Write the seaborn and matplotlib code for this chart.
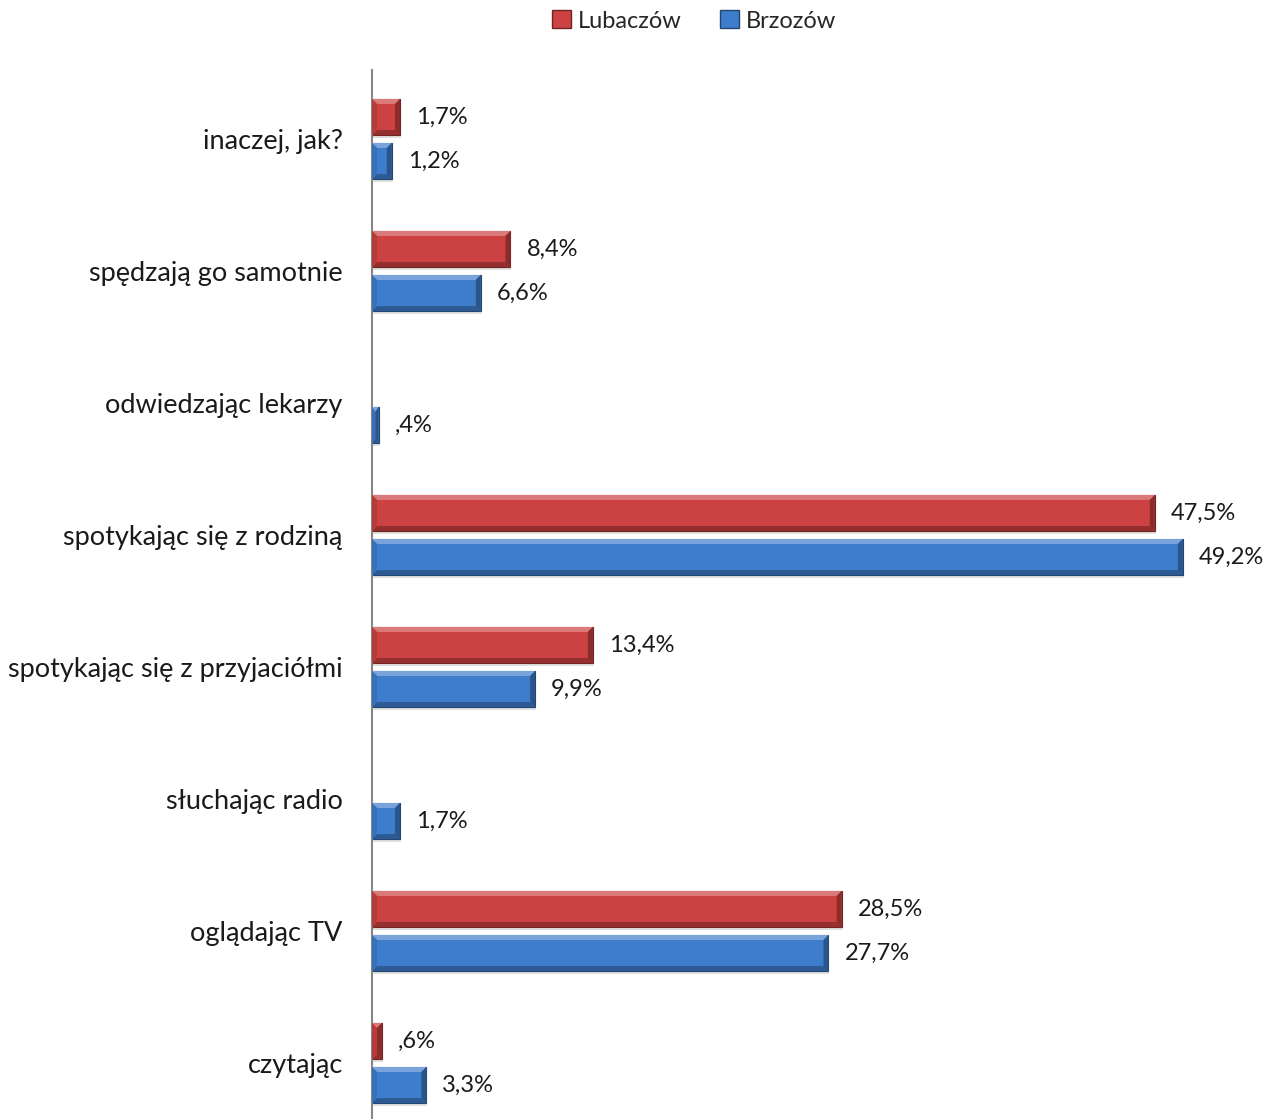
import numpy as np
import pandas as pd
import seaborn as sns
import matplotlib.pyplot as plt
from matplotlib.patches import Polygon, Patch, Rectangle
import matplotlib.colors as mcolors

categories = [
    "inaczej, jak?",
    "spędzają go samotnie",
    "odwiedzając lekarzy",
    "spotykając się z rodziną",
    "spotykając się z przyjaciółmi",
    "słuchając radio",
    "oglądając TV",
    "czytając",
]
lubaczow = [1.7, 8.4, np.nan, 47.5, 13.4, np.nan, 28.5, 0.6]
brzozow = [1.2, 6.6, 0.4, 49.2, 9.9, 1.7, 27.7, 3.3]
lubaczow_labels = ["1,7%", "8,4%", "", "47,5%", "13,4%", "", "28,5%", ",6%"]
brzozow_labels = ["1,2%", "6,6%", ",4%", "49,2%", "9,9%", "1,7%", "27,7%", "3,3%"]
series = ["Lubaczów", "Brzozów"]
colors = ["#CC4141", "#3E7DCB"]

df = pd.DataFrame({
    "kategoria": categories * 2,
    "seria": [series[0]] * len(categories) + [series[1]] * len(categories),
    "wartosc": lubaczow + brzozow,
})

sns.set_style("white")
plt.rcParams["font.family"] = ["Lato", "DejaVu Sans"]

W, H = 1274, 1119
fig = plt.figure(figsize=(W / 100, H / 100), dpi=100)
ax_left, ax_right, ax_top = 372, 1250, 70
ax = fig.add_axes([ax_left / W, 0, (ax_right - ax_left) / W, 1 - ax_top / H])

sns.barplot(
    data=df, y="kategoria", x="wartosc", hue="seria", order=categories,
    hue_order=series, palette=colors, orient="h", width=0.667, gap=0.18,
    errorbar=None, legend=False, ax=ax, linewidth=0, saturation=1,
)

px_x = 16.48  # pixels per percent
ax.set_xlim(0, (ax_right - ax_left) / px_x)
ax.set_ylim(7.424, -0.523)
px_y = (H - ax_top) / (7.424 + 0.523)

# bevel look on each bar
bev = 5
for patch in list(ax.patches):
    w = patch.get_width()
    if not np.isfinite(w) or w <= 0:
        continue
    base = np.array(mcolors.to_rgb(patch.get_facecolor()))
    x0, y0 = patch.get_x(), patch.get_y()
    h = patch.get_height()
    x1, yb = x0 + w, y0 + h  # y inverted: y0 is top visually
    bx = min(bev / px_x, w / 2)
    by = bev / px_y
    light = np.clip(base + (1 - base) * 0.3, 0, 1)
    dark = base * 0.72
    mid = base * 0.9
    patch.set_edgecolor(base * 0.55)
    patch.set_linewidth(0.8)
    patch.set_zorder(2)
    # soft shadow
    ax.add_patch(Rectangle((x0 + 1 / px_x, y0 + 3 / px_y), w, h, fc="#000000", alpha=0.12,
                           ec="none", zorder=1))
    ax.add_patch(Polygon([(x0, y0), (x1, y0), (x1 - bx, y0 + by), (x0 + bx, y0 + by)],
                         closed=True, fc=light, ec="none", zorder=3))
    ax.add_patch(Polygon([(x0, yb), (x1, yb), (x1 - bx, yb - by), (x0 + bx, yb - by)],
                         closed=True, fc=dark, ec="none", zorder=3))
    ax.add_patch(Polygon([(x1, y0), (x1, yb), (x1 - bx, yb - by), (x1 - bx, y0 + by)],
                         closed=True, fc=base * 0.68, ec="none", zorder=3))
    ax.add_patch(Polygon([(x0, y0), (x0, yb), (x0 + bx, yb - by), (x0 + bx, y0 + by)],
                         closed=True, fc=mid, ec="none", zorder=3))

# value labels
offsets = [-0.1667, 0.1667]
for vals, labs, off in [(lubaczow, lubaczow_labels, offsets[0]), (brzozow, brzozow_labels, offsets[1])]:
    for i, (v, lab) in enumerate(zip(vals, labs)):
        if np.isnan(v):
            continue
        ax.text(v + 16 / px_x, i + off, lab, va="center", ha="left", fontsize=17, color="#1a1a1a")

ax.set_xlabel("")
ax.set_ylabel("")
ax.set_xticks([])
ax.tick_params(axis="y", length=0, pad=21, labelsize=19.5, labelcolor="#1a1a1a")
for s in ["top", "right", "bottom"]:
    ax.spines[s].set_visible(False)
ax.spines["left"].set_color("#868686")
ax.spines["left"].set_linewidth(1.5)

handles = [Patch(facecolor=c, edgecolor=np.array(mcolors.to_rgb(c)) * 0.55) for c in colors]
fig.legend(handles, series, loc="center", bbox_to_anchor=(694 / W, 1 - 21 / H), ncol=2,
           frameon=False, fontsize=17, handlelength=0.8, handleheight=0.8,
           handletextpad=0.3, columnspacing=1.6)

fig.savefig("out.png", dpi=100)
